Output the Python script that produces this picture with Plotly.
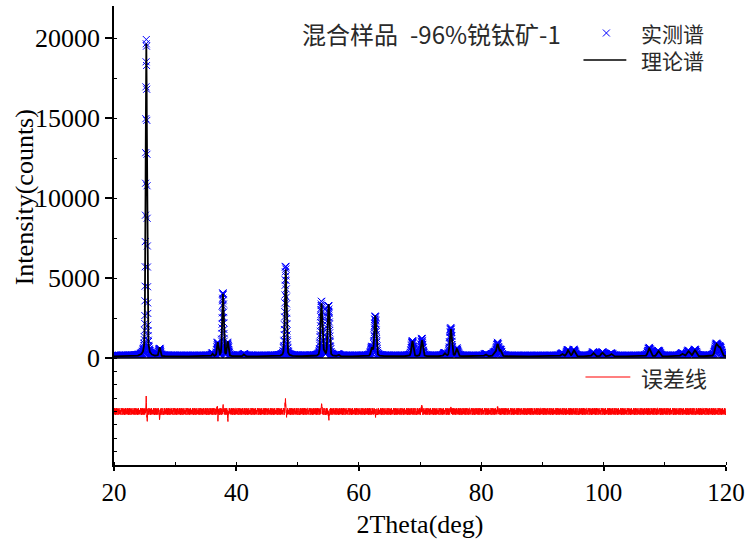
import numpy as np
import plotly.graph_objects as go

# ---------------- data ----------------
two_theta_start = 20.0
two_theta_end = 120.0
two_theta_step = 0.02

# Bragg peaks: position (deg), calculated height above background (counts), FWHM (deg)
peak_pos = [25.28, 27.45, 36.09, 36.95, 37.80, 38.58, 41.23, 48.05, 53.89, 54.32,
            55.06, 56.64, 62.12, 62.69, 68.76, 70.31, 74.03, 75.03, 76.02, 80.73,
            82.14, 82.66, 83.15, 93.22, 94.18, 95.14, 98.32, 99.80, 101.22, 107.45,
            108.96, 112.84, 113.86, 114.91, 118.44, 119.00]
peak_height = [19550, 550, 150, 850, 3900, 900, 120, 5450, 3300, 200,
               3250, 100, 500, 2550, 950, 1000, 180, 1700, 450, 120,
               200, 750, 350, 150, 380, 380, 220, 220, 160, 500,
               330, 160, 320, 380, 720, 520]
peak_fwhm = [0.26, 0.28, 0.28, 0.28, 0.29, 0.29, 0.30, 0.31, 0.33, 0.33,
             0.33, 0.34, 0.35, 0.35, 0.37, 0.37, 0.38, 0.38, 0.38, 0.40,
             0.40, 0.40, 0.40, 0.45, 0.45, 0.45, 0.47, 0.47, 0.47, 0.50,
             0.50, 0.52, 0.52, 0.52, 0.55, 0.55]
background = 100  # counts

# misfit features seen in the difference curve: position, amplitude (counts), sigma (deg)
misfit_pos = [25.26, 25.42, 27.45, 36.88, 36.99, 37.85, 38.62, 48.02, 48.18, 53.92,
              55.10, 62.72, 70.30, 75.05, 82.70]
misfit_amp = [330, -190, -120, 90, -160, 110, -200, 250, -60, 150,
              -150, -90, 110, 70, 60]
misfit_sigma = [0.035, 0.035, 0.05, 0.04, 0.04, 0.04, 0.05, 0.05, 0.05, 0.05,
                0.05, 0.05, 0.05, 0.05, 0.05]

# counting-noise pattern of the measurement (relative units), scale in counts
noise_pattern = [0.3, -0.8, 0.5, 0.1, -0.4, 0.9, -0.2, -0.7, 0.6, 0.0, -0.5, 0.8, -0.9,
                 0.2, 0.4, -0.3, 0.7, -0.6, 0.1, -0.1, 0.9, -0.8, 0.3, 0.5, -0.4, -0.2,
                 0.6, -0.7, 0.8, 0.0, -0.3, 0.4, -0.9, 0.2, 0.7, -0.5, 0.1, -0.6, 0.5,
                 0.3, -0.8, 0.9, -0.1, -0.4, 0.6, -0.2, 0.8, -0.7, 0.0, 0.4, -0.5, 0.2, -0.3]
noise_scale = 85

x_ticks = [20, 40, 60, 80, 100, 120]
y_ticks = [0, 5000, 10000, 15000, 20000]
y_ticktext = ["0", "5000", "10000", "15000", "20000"]

sample_name = "混合样品 -96%锐钛矿-1"
name_obs = "实测谱"
name_calc = "理论谱"
name_diff = "误差线"

# ---------------- build the pattern ----------------
tt = np.round(np.arange(two_theta_start, two_theta_end + two_theta_step / 2, two_theta_step), 4)
calc = np.full_like(tt, float(background))
eta = 0.3
for p, h, w in zip(peak_pos, peak_height, peak_fwhm):
    d = tt - p
    lor = 1.0 / (1.0 + (2 * d / w) ** 2)
    gau = np.exp(-4 * np.log(2) * (d / w) ** 2)
    calc += h * (eta * lor + (1 - eta) * gau)

misfit = np.zeros_like(tt)
for p, a, s in zip(misfit_pos, misfit_amp, misfit_sigma):
    misfit += a * np.exp(-0.5 * ((tt - p) / s) ** 2)

noise = noise_scale * np.resize(np.array(noise_pattern), tt.size)
obs = calc + misfit + noise
diff = obs - calc

# ---------------- figure ----------------
W, H = 751, 549
ml, mr, mt, mb = 114, 23, 6, 84
PW, PH = W - ml - mr, H - mt - mb
split = 107 / PH

serif = "Liberation Serif"
cjk = "Noto Sans CJK SC"
txt_col = "#2a2a2a"


def px(xp):
    return (xp - ml) / PW


def py(yp):
    return 1 - (yp - mt) / PH


fig = go.Figure()
fig.add_trace(go.Scatter(
    x=tt, y=obs, mode="markers", name=name_obs,
    marker=dict(symbol="x-thin", size=7, color="#0000ff",
                line=dict(width=1, color="#0000ff")),
    xaxis="x", yaxis="y"))
fig.add_trace(go.Scatter(
    x=tt, y=calc, mode="lines", name=name_calc,
    line=dict(color="black", width=1.8),
    xaxis="x", yaxis="y"))
fig.add_trace(go.Scatter(
    x=tt, y=diff, mode="lines", name=name_diff,
    line=dict(color="#ff0000", width=1),
    xaxis="x", yaxis="y2"))

axis_line = dict(showline=True, linecolor="black", linewidth=1.5,
                 showgrid=False, zeroline=False)

fig.update_layout(
    width=W, height=H,
    margin=dict(l=ml, r=mr, t=mt, b=mb, pad=0),
    paper_bgcolor="white", plot_bgcolor="white",
    font=dict(family=serif, color="black"),
    showlegend=False,
    xaxis=dict(range=[two_theta_start, two_theta_end], anchor="y2",
               tickvals=x_ticks, ticktext=[str(v) for v in x_ticks],
               ticks="outside", ticklen=4, tickwidth=1.5, tickcolor="black",
               minor=dict(dtick=10, ticks="inside", ticklen=3, tickwidth=1, tickcolor="black"),
               tickfont=dict(family=serif, size=25, color="black"),
               title=dict(text="2Theta(deg)", font=dict(family=serif, size=26, color="black"),
                          standoff=10),
               **axis_line),
    xaxis2=dict(range=[two_theta_start, two_theta_end], overlaying="x", anchor="y",
                side="top", dtick=10, tick0=20, ticks="inside", ticklen=3, tickwidth=1,
                tickcolor="black", showticklabels=False, **axis_line),
    yaxis=dict(domain=[split, 1], range=[0, 22000], anchor="x",
               tickvals=y_ticks, ticktext=y_ticktext,
               ticks="outside", ticklen=7, tickwidth=1.5, tickcolor="black",
               minor=dict(dtick=2500, ticks="inside", ticklen=3, tickwidth=1, tickcolor="black"),
               tickfont=dict(family=serif, size=26, color="black"),
               **axis_line),
    yaxis3=dict(range=[0, 22000], overlaying="y", anchor="x", side="right",
                dtick=2500, ticks="inside", ticklen=3, tickwidth=1, tickcolor="black",
                showticklabels=False, **axis_line),
    yaxis2=dict(domain=[0, split], range=[-1200, 1200], anchor="x",
                dtick=300, ticks="inside", ticklen=3, tickwidth=1, tickcolor="black",
                showticklabels=False, **axis_line),
    yaxis4=dict(range=[-1200, 1200], overlaying="y2", anchor="x", side="right",
                dtick=300, ticks="inside", ticklen=3, tickwidth=1, tickcolor="black",
                showticklabels=False, **axis_line),
)

# separator between the pattern and the difference panel
fig.add_shape(type="line", xref="paper", yref="paper", x0=0, x1=1, y0=split, y1=split,
              line=dict(color="black", width=1.5))

# y-axis title
fig.add_annotation(text="Intensity(counts)", xref="paper", yref="paper",
                   x=px(25), y=py(197), textangle=-90,
                   showarrow=False, xanchor="center", yanchor="middle",
                   font=dict(family=serif, size=26, color="black"))

# sample label
fig.add_annotation(text=sample_name.replace(" ", "\u2002"), xref="paper", yref="paper",
                   x=px(564), y=py(33),
                   showarrow=False, xanchor="right", yanchor="middle",
                   font=dict(family=cjk, size=24, color=txt_col))

# legend: glyphs and labels
# observed: thin blue cross
fig.add_shape(type="line", xref="paper", yref="paper",
              x0=px(604.5), x1=px(611.5), y0=py(29.5), y1=py(36.5),
              line=dict(color="#0000ff", width=1))
fig.add_shape(type="line", xref="paper", yref="paper",
              x0=px(604.5), x1=px(611.5), y0=py(36.5), y1=py(29.5),
              line=dict(color="#0000ff", width=1))
# calculated: black line
fig.add_shape(type="line", xref="paper", yref="paper",
              x0=px(585), x1=px(628), y0=py(60), y1=py(60),
              line=dict(color="black", width=1.5))
# difference: red line
fig.add_shape(type="line", xref="paper", yref="paper",
              x0=px(587), x1=px(632), y0=py(377), y1=py(377),
              line=dict(color="#ff0000", width=1.2))

# labels of the upper legend (one two-line text) and the lower one
fig.add_annotation(text=name_obs + "<br>" + name_calc, xref="paper", yref="paper",
                   x=px(641), y=py(46), showarrow=False,
                   xanchor="left", yanchor="middle", align="left",
                   font=dict(family=cjk, size=21, color=txt_col))
fig.add_annotation(text=name_diff, xref="paper", yref="paper",
                   x=px(641), y=py(377), showarrow=False,
                   xanchor="left", yanchor="middle",
                   font=dict(family=cjk, size=22, color=txt_col))

fig.write_html("out.html")
